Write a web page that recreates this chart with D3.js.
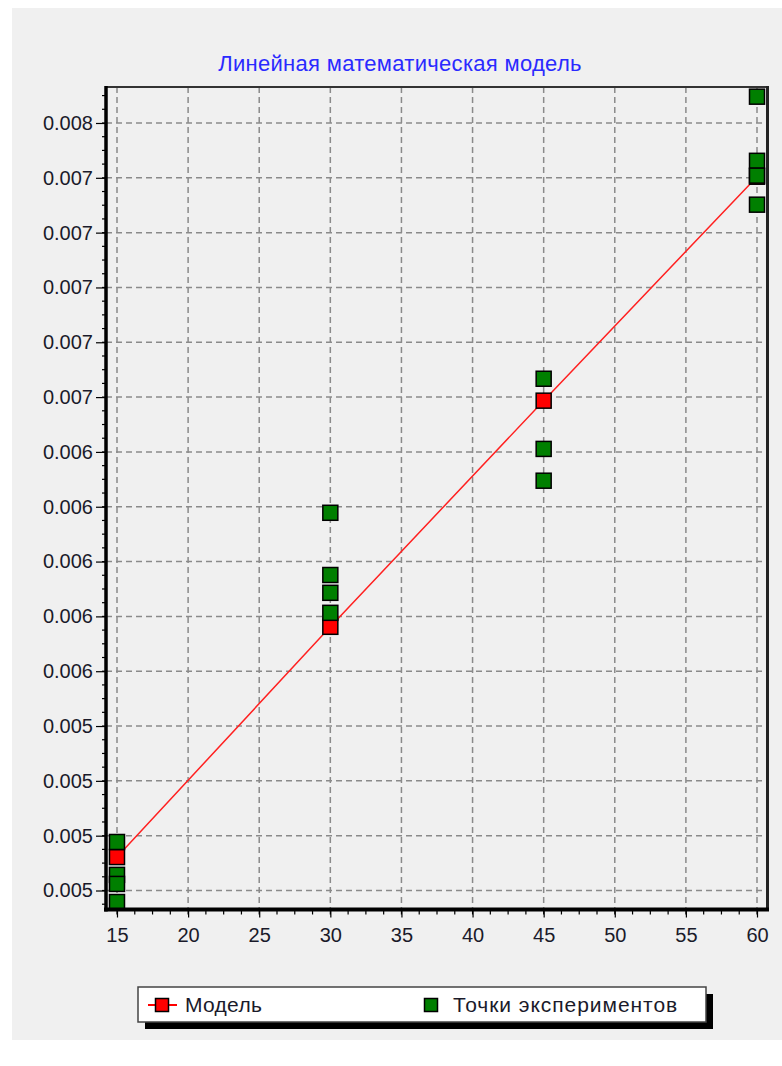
<!DOCTYPE html>
<html>
<head>
<meta charset="utf-8">
<script src="https://cdn.jsdelivr.net/npm/d3@7"></script>
<style>
  html, body { margin: 0; padding: 0; background: #ffffff; }
  svg { display: block; }
  text { font-family: "Liberation Sans", Arial, sans-serif; }
</style>
</head>
<body>
<svg id="chart" width="782" height="1066"></svg>
<script>
// ---- data ----
const chartTitle = "Линейная математическая модель";
const seriesNames = ["Модель", "Точки экспериментов"];
const modelX = [15, 30, 45, 60];
const modelY = [0.004922, 0.005762, 0.006587, 0.007404];
const expX = [15, 15, 15, 15, 30, 30, 30, 30, 45, 45, 45, 60, 60, 60, 60];
const expY = [0.004977, 0.004857, 0.004824, 0.004758,
              0.006178, 0.005951, 0.005886, 0.005813,
              0.006667, 0.006411, 0.006295,
              0.007696, 0.007462, 0.007408, 0.007302];
const xTicks = [15, 20, 25, 30, 35, 40, 45, 50, 55, 60];
const xTickLabels = ["15", "20", "25", "30", "35", "40", "45", "50", "55", "60"];
const yTicks = [0.0048, 0.0050, 0.0052, 0.0054, 0.0056, 0.0058, 0.0060, 0.0062,
                0.0064, 0.0066, 0.0068, 0.0070, 0.0072, 0.0074, 0.0076];
const yTickLabels = ["0.005", "0.005", "0.005", "0.005", "0.006", "0.006", "0.006", "0.006",
                     "0.006", "0.007", "0.007", "0.007", "0.007", "0.007", "0.008"];
const xDomain = [14.227, 60.738];
const yDomain = [0.0047307, 0.0077313];

// ---- layout ----
const svg = d3.select("#chart");
const plot = { left: 106, right: 767.5, top: 87, bottom: 909.5 };

svg.append("rect").attr("x", 12).attr("y", 8).attr("width", 770).attr("height", 1032)
  .attr("fill", "#f0f0f0");

const x = d3.scaleLinear().domain(xDomain).range([plot.left, plot.right]);
const y = d3.scaleLinear().domain(yDomain).range([plot.bottom, plot.top]);

// title
svg.append("text").attr("x", 400).attr("y", 71).attr("text-anchor", "middle")
  .attr("font-size", 22).attr("letter-spacing", 0.3).attr("fill", "#2a2aff").text(chartTitle);

// grid
const grid = svg.append("g").attr("stroke", "#8a8a8a").attr("stroke-width", 1.5)
  .attr("stroke-dasharray", "6,4");
grid.selectAll("line.gx").data(xTicks).join("line")
  .attr("x1", d => x(d)).attr("x2", d => x(d))
  .attr("y1", plot.top).attr("y2", plot.bottom);
grid.selectAll("line.gy").data(yTicks).join("line")
  .attr("x1", plot.left).attr("x2", plot.right)
  .attr("y1", d => y(d)).attr("y2", d => y(d));

// model line
const line = d3.line().x((d, i) => x(modelX[i])).y(d => y(d));
svg.append("path").datum(modelY).attr("d", line)
  .attr("fill", "none").attr("stroke", "#ff2020").attr("stroke-width", 1.5);

const ms = 15;
svg.append("g").selectAll("rect").data(modelY).join("rect")
  .attr("x", (d, i) => x(modelX[i]) - ms / 2).attr("y", d => y(d) - ms / 2)
  .attr("width", ms).attr("height", ms)
  .attr("fill", "#ff0000").attr("stroke", "#000").attr("stroke-width", 1.5);

svg.append("g").selectAll("rect").data(expY).join("rect")
  .attr("x", (d, i) => x(expX[i]) - ms / 2).attr("y", d => y(d) - ms / 2)
  .attr("width", ms).attr("height", ms)
  .attr("fill", "#007f00").attr("stroke", "#000").attr("stroke-width", 1.5);

// axes
const xMinor = d3.range(xTicks[0], xDomain[1], 1.25);
const yStep = 0.00005;
const yMinor = d3.range(yTicks[0] - 2 * yStep, yDomain[1], yStep).filter(v => v > yDomain[0]);

const xAxis = d3.axisBottom(x).tickValues(xTicks).tickSize(8).tickPadding(10)
  .tickFormat((d, i) => xTickLabels[i]);
const gx = svg.append("g").attr("transform", `translate(0,${plot.bottom})`).call(xAxis);
gx.select(".domain").remove();
gx.selectAll("line").attr("stroke", "#000").attr("stroke-width", 1.2);
gx.selectAll("text").attr("font-size", 20).attr("fill", "#1a1a2a")
  .attr("font-family", "Liberation Sans, Arial, sans-serif");
gx.append("g").selectAll("line").data(xMinor).join("line")
  .attr("x1", d => x(d)).attr("x2", d => x(d)).attr("y1", 0).attr("y2", 5)
  .attr("stroke", "#000").attr("stroke-width", 1.2);

const yAxis = d3.axisLeft(y).tickValues(yTicks).tickSize(10).tickPadding(3)
  .tickFormat((d, i) => yTickLabels[i]);
const gy = svg.append("g").attr("transform", `translate(${plot.left},0)`).call(yAxis);
gy.select(".domain").remove();
gy.selectAll("line").attr("stroke", "#000").attr("stroke-width", 1.2);
gy.selectAll("text").attr("font-size", 20).attr("fill", "#1a1a2a")
  .attr("font-family", "Liberation Sans, Arial, sans-serif");
gy.append("g").selectAll("line").data(yMinor).join("line")
  .attr("y1", d => y(d)).attr("y2", d => y(d)).attr("x1", 0).attr("x2", -4)
  .attr("stroke", "#000").attr("stroke-width", 1.2);

// frame
svg.append("line").attr("x1", plot.left).attr("x2", plot.right).attr("y1", plot.top).attr("y2", plot.top)
  .attr("stroke", "#333").attr("stroke-width", 2);
svg.append("line").attr("x1", plot.right).attr("x2", plot.right).attr("y1", plot.top - 1).attr("y2", plot.bottom)
  .attr("stroke", "#222").attr("stroke-width", 3);
svg.append("line").attr("x1", plot.left).attr("x2", plot.left).attr("y1", plot.top - 1).attr("y2", plot.bottom + 2)
  .attr("stroke", "#000").attr("stroke-width", 3.5);
svg.append("line").attr("x1", plot.left - 2).attr("x2", plot.right + 1.5).attr("y1", plot.bottom).attr("y2", plot.bottom)
  .attr("stroke", "#000").attr("stroke-width", 4);

// legend
const lg = { x: 138, y: 987, w: 568, h: 35 };
svg.append("rect").attr("x", lg.x + 7).attr("y", lg.y + 7).attr("width", lg.w).attr("height", lg.h).attr("fill", "#000");
svg.append("rect").attr("x", lg.x).attr("y", lg.y).attr("width", lg.w).attr("height", lg.h)
  .attr("fill", "#fff").attr("stroke", "#444").attr("stroke-width", 1.5);
const cy = lg.y + 18;
svg.append("line").attr("x1", 148).attr("x2", 177).attr("y1", cy).attr("y2", cy)
  .attr("stroke", "#ff0000").attr("stroke-width", 2);
const ls = 13;
svg.append("rect").attr("x", 162 - ls / 2).attr("y", cy - ls / 2).attr("width", ls).attr("height", ls)
  .attr("fill", "#ff0000").attr("stroke", "#000").attr("stroke-width", 1.5);
svg.append("text").attr("x", 185).attr("y", cy + 7).attr("font-size", 21).attr("letter-spacing", 0.3)
  .attr("fill", "#1a1a2a").text(seriesNames[0]);
svg.append("rect").attr("x", 431 - ls / 2).attr("y", cy - ls / 2).attr("width", ls).attr("height", ls)
  .attr("fill", "#007f00").attr("stroke", "#000").attr("stroke-width", 1.5);
svg.append("text").attr("x", 453).attr("y", cy + 7).attr("font-size", 21).attr("letter-spacing", 0.95)
  .attr("fill", "#1a1a2a").text(seriesNames[1]);
</script>
</body>
</html>
